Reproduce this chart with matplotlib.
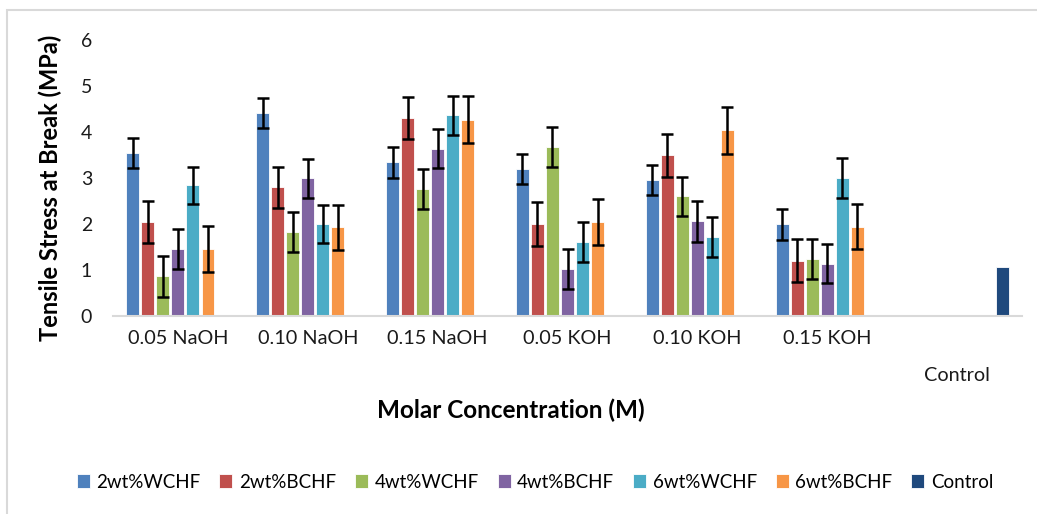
import matplotlib
matplotlib.use("Agg")
import matplotlib.pyplot as plt
import numpy as np
from matplotlib.patches import Rectangle

categories = ["0.05 NaOH", "0.10 NaOH", "0.15 NaOH", "0.05 KOH", "0.10 KOH", "0.15 KOH", "Control"]
series_names = ["2wt%WCHF", "2wt%BCHF", "4wt%WCHF", "4wt%BCHF", "6wt%WCHF", "6wt%BCHF", "Control"]
colors = ["#4F81BD", "#C0504D", "#9BBB59", "#8064A2", "#4BACC6", "#F79646", "#1F497D"]

# values per series across the six treatment categories
v_2W = [3.54, 4.42, 3.34, 3.20, 2.95, 1.99]
v_2B = [2.04, 2.80, 4.30, 2.00, 3.49, 1.20]
v_4W = [0.86, 1.83, 2.76, 3.67, 2.60, 1.24]
v_4B = [1.46, 2.99, 3.64, 1.02, 2.06, 1.14]
v_6W = [2.84, 2.00, 4.36, 1.61, 1.72, 3.00]
v_6B = [1.46, 1.93, 4.27, 2.04, 4.04, 1.94]
control_value = 1.07

e_2W = [0.33, 0.33, 0.33, 0.33, 0.33, 0.33]
e_2B = [0.45, 0.45, 0.46, 0.47, 0.47, 0.47]
e_4W = [0.44, 0.43, 0.44, 0.43, 0.43, 0.43]
e_4B = [0.43, 0.43, 0.43, 0.44, 0.45, 0.43]
e_6W = [0.41, 0.42, 0.43, 0.43, 0.43, 0.43]
e_6B = [0.50, 0.49, 0.51, 0.50, 0.51, 0.49]

values = [v_2W, v_2B, v_4W, v_4B, v_6W, v_6B]
errors = [e_2W, e_2B, e_4W, e_4B, e_6W, e_6B]

FONT = "Lato"
plt.rcParams["font.family"] = [FONT, "DejaVu Sans"]

fig = plt.figure(figsize=(10.37, 5.14), dpi=100)
ax = fig.add_axes([113/1037, 1 - 316/514, (1022 - 113)/1037, (316 - 40)/514])

n_slots = 7
slot = 0.81 / n_slots
bar_w = slot * 0.86
x = np.arange(len(categories))
x6 = x[:6]

handles = []
for i, (vals, errs) in enumerate(zip(values, errors)):
    pos = x6 + (i - 3) * slot
    b = ax.bar(pos, vals, width=bar_w, color=colors[i], edgecolor="white", linewidth=0.6, zorder=2)
    ax.errorbar(pos, vals, yerr=errs, fmt="none", ecolor="black", elinewidth=1.8,
                capsize=4.3, capthick=1.8, zorder=3)
    handles.append(b)

bc = ax.bar([x[6] + 3 * slot], [control_value], width=bar_w, color=colors[6],
            edgecolor="white", linewidth=0.6, zorder=2)
handles.append(bc)

ax.set_xlim(-0.5, len(categories) - 0.5)
ax.set_ylim(0, 6)
ax.set_yticks(range(0, 7))
ax.tick_params(axis="y", length=0, labelsize=14, pad=15, labelcolor="#1a1a1a")
ax.tick_params(axis="x", length=0, labelsize=14.3, pad=10, labelcolor="#1a1a1a")
ax.set_xticks(x)
ax.set_xticklabels(categories)
for lbl in ax.get_xticklabels():
    if lbl.get_text() == "Control":
        lbl.set_y(-0.135)

for s in ["top", "right", "left"]:
    ax.spines[s].set_visible(False)
ax.spines["bottom"].set_color("#d9d9d9")
ax.spines["bottom"].set_linewidth(1.5)

fig.text(50/1037, 1 - 188/514, "Tensile Stress at Break (MPa)", rotation=90,
         ha="center", va="center", fontsize=17, fontweight="bold")
fig.text(511/1037, 1 - 410/514, "Molar Concentration (M)", ha="center", va="center",
         fontsize=17.5, fontweight="bold")

fig.legend(handles, series_names, loc="center", bbox_to_anchor=(535/1037, 1 - 482/514),
           ncol=7, frameon=False, fontsize=13.5, handlelength=0.7, handleheight=0.7,
           handletextpad=0.35, columnspacing=1.0)

fig.patches.append(Rectangle((7/1037, -0.1), 1.2, (1 - 10/514) + 0.1, transform=fig.transFigure,
                             fill=False, edgecolor="#d9d9d9", linewidth=1.5))

fig.savefig("out.png", dpi=100)
